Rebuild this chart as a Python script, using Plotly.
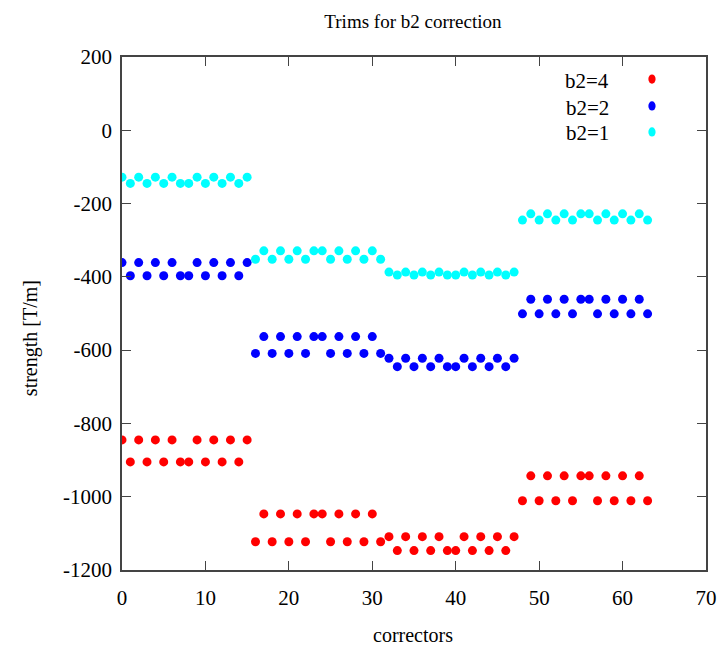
import plotly.graph_objects as go

correctors = list(range(64))

b2_4 = [-845, -905, -845, -905, -845, -905, -845, -905, -905, -845, -905, -845, -905, -845, -905, -845,
        -1123, -1047, -1123, -1047, -1123, -1047, -1123, -1047, -1047, -1123, -1047, -1123, -1047, -1123, -1047, -1123,
        -1109, -1147, -1109, -1147, -1109, -1147, -1109, -1147, -1147, -1109, -1147, -1109, -1147, -1109, -1147, -1109,
        -1011, -943, -1011, -943, -1011, -943, -1011, -943, -943, -1011, -943, -1011, -943, -1011, -943, -1011]

b2_2 = [-361, -397, -361, -397, -361, -397, -361, -397, -397, -361, -397, -361, -397, -361, -397, -361,
        -609, -563, -609, -563, -609, -563, -609, -563, -563, -609, -563, -609, -563, -609, -563, -609,
        -622, -645, -622, -645, -622, -645, -622, -645, -645, -622, -645, -622, -645, -622, -645, -622,
        -501, -461, -501, -461, -501, -461, -501, -461, -461, -501, -461, -501, -461, -501, -461, -501]

b2_1 = [-128, -145, -128, -145, -128, -145, -128, -145, -145, -128, -145, -128, -145, -128, -145, -128,
        -352, -329, -352, -329, -352, -329, -352, -329, -329, -352, -329, -352, -329, -352, -329, -352,
        -387, -395, -387, -395, -387, -395, -387, -395, -395, -387, -395, -387, -395, -387, -395, -387,
        -245, -228, -245, -228, -245, -228, -245, -228, -228, -245, -228, -245, -228, -245, -228, -245]

series_names = ["b2=4", "b2=2", "b2=1"]
series_values = [b2_4, b2_2, b2_1]
series_colors = ["#ff0000", "#0000ff", "#00ffff"]

x_ticks = [0, 10, 20, 30, 40, 50, 60, 70]
y_ticks = [200, 0, -200, -400, -600, -800, -1000, -1200]

FONT = "Liberation Serif, Times New Roman, serif"

fig = go.Figure()
for name, vals, col in zip(series_names, series_values, series_colors):
    fig.add_trace(go.Scatter(
        x=correctors, y=vals, mode="markers", name=name,
        marker=dict(symbol="circle", size=9, color=col, line=dict(width=0)),
        showlegend=False,
    ))

# gnuplot-style key: text right-aligned, symbol on the right
legend_y = [0.957, 0.9045, 0.854]
for name, col, ly in zip(series_names, series_colors, legend_y):
    fig.add_annotation(x=0.837, y=ly - 0.003, xref="paper", yref="paper", text=name,
                       showarrow=False, xanchor="right", yanchor="middle",
                       font=dict(family=FONT, size=21, color="black"))
    fig.add_shape(type="circle", xref="paper", yref="paper",
                  x0=0.9075 - 0.0062, x1=0.9075 + 0.0062,
                  y0=ly - 0.009, y1=ly + 0.009,
                  fillcolor=col, line=dict(width=0))

# axis titles
fig.add_annotation(x=-0.1575, y=0.452, xref="paper", yref="paper", text="strength [T/m]",
                   textangle=-90, showarrow=False, xanchor="center", yanchor="middle",
                   font=dict(family=FONT, size=20, color="black"))
fig.add_annotation(x=0.498, y=-0.127, xref="paper", yref="paper", text="correctors",
                   showarrow=False, xanchor="center", yanchor="middle",
                   font=dict(family=FONT, size=20, color="black"))

axis_common = dict(
    showgrid=False, zeroline=False, showline=True, linecolor="#444444", linewidth=1.5,
    mirror="ticks", ticks="inside", ticklen=9, tickcolor="#444444",
    tickfont=dict(family=FONT, size=21, color="black"),
)

fig.update_layout(
    width=727, height=648,
    margin=dict(l=114, r=29, t=49, b=86),
    paper_bgcolor="white", plot_bgcolor="white",
    title=dict(text="Trims for b2 correction", x=0.557, xanchor="center", y=0.979, yanchor="middle",
               font=dict(family=FONT, size=19, color="black")),
    xaxis=dict(range=[0, 70], tickvals=x_ticks, ticktext=[str(v) for v in x_ticks],
               ticklabelstandoff=8, **axis_common),
    yaxis=dict(range=[-1200, 200], tickvals=y_ticks, ticktext=[str(v) for v in y_ticks],
               ticklabelstandoff=4, **axis_common),
)

fig.write_html("out.html")
